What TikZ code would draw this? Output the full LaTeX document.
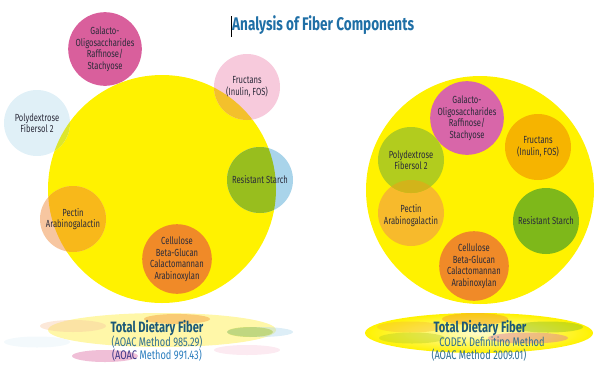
\documentclass[tikz,border=0pt]{standalone}
\usepackage{fontspec}
\setmainfont{Fira Sans}[FakeStretch=0.74]
\usetikzlibrary{shapes, positioning}
\usepackage{xcolor}
\definecolor{fbyellow}{HTML}{FFF200}
\definecolor{fbpale}{HTML}{FFF7A8}
\definecolor{fbink}{HTML}{2B2B3A}
\definecolor{fbtitle}{HTML}{1F6FA6}
\definecolor{fbhead}{HTML}{1B5878}
\definecolor{fbsub}{HTML}{2E6E93}
\definecolor{fbblue}{HTML}{2A7DBE}
\definecolor{fbnavy}{HTML}{3B3587}
% outside / inside the yellow disc
\definecolor{galpink}{HTML}{D95F9C}
\definecolor{frupink}{HTML}{F7CADC}
\definecolor{fruin}{HTML}{F3C02C}
\definecolor{polyblue}{HTML}{E0F0F7}
\definecolor{polyin}{HTML}{DDE62C}
\definecolor{rsblue}{HTML}{A9D4EA}
\definecolor{rsin}{HTML}{98BE1E}
\definecolor{pecsalmon}{HTML}{F7C6A0}
\definecolor{pecin}{HTML}{F8B81A}
\definecolor{celorange}{HTML}{F08A28}
% right hand disc
\definecolor{galpinkR}{HTML}{D866A9}
\definecolor{fruorange}{HTML}{F6B400}
\definecolor{polygreen}{HTML}{B2CC1E}
\definecolor{pecorange}{HTML}{F7BA2C}
\definecolor{pecpoly}{HTML}{D2B41A}
\definecolor{rsgreen}{HTML}{7EB81A}
\tikzstyle{bigdisc} = [circle, minimum size=228pt, inner sep=0pt, fill=fbyellow]
\tikzstyle{fibre}   = [circle, minimum size=66pt, inner sep=0pt, align=center,
                       font=\fontsize{10.3}{11.5}\selectfont, text=fbink]
\tikzstyle{glow}    = [fill opacity=0.4]
\tikzstyle{tdfhead} = [anchor=base, font=\fontsize{15}{16}\selectfont\bfseries, text=fbhead, inner sep=0pt]
\tikzstyle{tdfline} = [anchor=base, font=\fontsize{12.5}{13}\selectfont, text=fbsub, inner sep=0pt]
\tikzset{inside/.style 2 args={path picture={\fill[#2] (#1.center) circle (114pt);}},
         overlap/.style 2 args={path picture={\fill[#2] (#1.center) circle (33pt);}}}

\begin{document}
\begin{tikzpicture}[x=1pt, y=-1pt]
                \useasboundingbox (0,0) rectangle (602,370);
                % title
                \node (title) [anchor=base west, inner sep=0pt, text=fbtitle,
                    font=\fontsize{18.3}{20}\selectfont\bfseries] at (232,30) {Analysis of Fiber Components};
                \draw[line width=0.7pt] ([shift={(-1,-14)}]title.base west) -- ([shift={(-1,7)}]title.base west);

                % left: AOAC methods
                \node (tdfL) [bigdisc] at (162,189) {};
                \node (galL) [fibre, fill=galpink] at (105,49) {Galacto-\\Oligosaccharides\\Raffinose/\\Stachyose};
                \node (fruL) [fibre, fill=frupink, inside={tdfL}{fruin}] at (247,87) {Fructans\\(Inulin, FOS)};
                \node (polL) [fibre, fill=polyblue, inside={tdfL}{polyin}] at (37,123) {Polydextrose\\Fibersol 2};
                \node (rsL) [fibre, fill=rsblue, inside={tdfL}{rsin}] at (260,180) {Resistant Starch};
                \node (pecL) [fibre, fill=pecsalmon, inside={tdfL}{pecin}] at (73,219) {Pectin\\Arabinogalactin};
                \node (celL) [fibre, fill=celorange] at (177,259) {Cellulose\\Beta-Glucan\\Calactomannan\\Arabinoxylan};

                % right: CODEX definition
                \node (tdfR) [bigdisc] at (480,190) {};
                \node (galR) [fibre, fill=galpinkR] at (467,118) {Galacto-\\Oligosaccharides\\Raffinose/\\Stachyose};
                \node (fruR) [fibre, fill=fruorange] at (538,147) {Fructans\\(Inulin, FOS)};
                \node (pecR) [fibre, fill=pecorange] at (411,213) {\\[2pt]Pectin\\Arabinogalactin};
                \node (polR) [fibre, fill=polygreen, overlap={pecR}{pecpoly}] at (411,160) {Polydextrose\\Fibersol 2};
                \node (rsR) [fibre, fill=rsgreen] at (546,221) {Resistant Starch};
                \node (celR) [fibre, fill=celorange] at (474,266) {Cellulose\\Beta-Glucan\\Calactomannan\\Arabinoxylan};

                % reflections
                \fill[fbpale] (162,330) ellipse (114pt and 17pt);
                \fill[glow, pecsalmon] (73,326) ellipse (33pt and 6pt);
                \fill[glow, celorange] (177,319) ellipse (33pt and 5pt);
                \fill[glow, rsblue] (260,332) ellipse (33pt and 5pt);
                \fill[glow, rsin] (250,332) ellipse (23pt and 5pt);
                \fill[glow, polyblue] (37,342) ellipse (33pt and 5.5pt);
                \fill[glow, galpink] (105,356) ellipse (33pt and 6pt);
                \fill[glow, frupink] (247,350) ellipse (33pt and 5pt);

                \shade[inner color=fbyellow!20, outer color=fbyellow] (479,333) ellipse (114pt and 20pt);
                \fill[glow, celorange] (475,319) ellipse (33pt and 6pt);
                \fill[glow, pecorange] (410,327) ellipse (33pt and 5.5pt);
                \fill[glow, rsgreen] (548,327) ellipse (35pt and 5.5pt);
                \fill[glow, polygreen] (412,338) ellipse (33pt and 5.5pt);
                \fill[glow, galpinkR] (528,338) ellipse (40pt and 5.5pt);

                % labels
                \node (totL) [tdfhead] at (157,332) {Total Dietary Fiber};
                \node (aoacA) [tdfline] at (157,346) {(AOAC Method 985.29)};
                \node (aoacB) [tdfline, text=fbblue] at (157,359) {{\color{fbnavy}(AOAC} Method 991.43)};
                \node (totR) [tdfhead] at (480,332) {Total Dietary Fiber};
                \node (codex) [tdfline] at (492,346) {CODEX Definitino Method};
                \node (aoacC) [tdfline] at (479,359) {(AOAC Method 2009.01)};
            \end{tikzpicture}
\end{document}
